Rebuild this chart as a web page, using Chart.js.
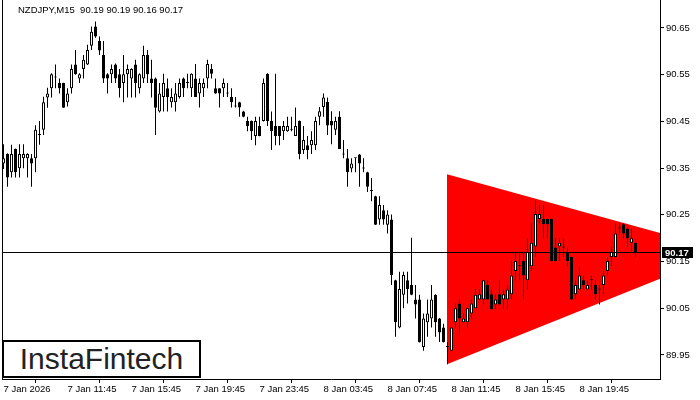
<!DOCTYPE html>
<html>
<head>
  <title>NZDJPY M15</title>
  <script src="https://cdn.jsdelivr.net/npm/chart.js"></script>
  <style>
    body { margin: 0; background: #fff; }
    #wrap { position: relative; width: 700px; height: 400px; }
    #title { position: absolute; left: 18px; top: 4px; font: 9.5px "Liberation Sans", Arial, sans-serif; color: #000; white-space: pre; }
    #logo { position: absolute; left: 2px; top: 340px; width: 195px; height: 34px; border: 2px solid #000; background: #fff;
            font: 30px "Liberation Sans", Arial, sans-serif; color: #222; text-align: center; line-height: 34px; }
  </style>
</head>
<body>
  <div id="wrap">
    <canvas id="chart" width="700" height="400"></canvas>
    <div id="title">NZDJPY,M15  90.19 90.19 90.16 90.17</div>
    <div id="logo">InstaFintech</div>
  </div>

  <script>
    // M15 bars, first bar = 7 Jan 2026 07:45
    const opens = [
      90.360, 90.380, 90.341, 90.391, 90.350, 90.371, 90.371, 90.371, 90.371, 90.421,
      90.432, 90.501, 90.521, 90.544, 90.532, 90.532, 90.491, 90.521, 90.572, 90.542,
      90.562, 90.572, 90.612, 90.653, 90.622, 90.592, 90.551, 90.551, 90.572, 90.551,
      90.532, 90.551, 90.542, 90.572, 90.521, 90.542, 90.592, 90.542, 90.542, 90.471,
      90.502, 90.521, 90.491, 90.491, 90.502, 90.542, 90.532, 90.521, 90.542, 90.510,
      90.521, 90.542, 90.562, 90.521, 90.521, 90.521, 90.510, 90.502, 90.482, 90.491,
      90.471, 90.451, 90.451, 90.419, 90.440, 90.451, 90.552, 90.451, 90.440, 90.440,
      90.429, 90.429, 90.432, 90.419, 90.451, 90.389, 90.399, 90.399, 90.399, 90.460,
      90.481, 90.492, 90.451, 90.432, 90.460, 90.379, 90.371, 90.349, 90.371, 90.379,
      90.349, 90.341, 90.301, 90.290, 90.240, 90.260, 90.229, 90.240, 90.110, 90.009,
      90.079, 90.110, 90.100, 90.069, 90.069, 89.967, 90.020, 90.028, 90.079, 90.028,
      90.009, 89.967, 89.959, 90.020, 90.060, 90.020, 90.020, 90.039, 90.050, 90.069,
      90.069, 90.100, 90.080, 90.058, 90.080, 90.069, 90.069, 90.080, 90.130, 90.140,
      90.151, 90.110, 90.140, 90.182, 90.241, 90.241, 90.241, 90.241, 90.180, 90.182,
      90.180, 90.171, 90.160, 90.080, 90.090, 90.110, 90.090, 90.110, 90.100, 90.090,
      90.100, 90.130, 90.160, 90.160, 90.221, 90.230, 90.221, 90.190, 90.190
    ];
    const highs = [
      90.401, 90.382, 90.400, 90.392, 90.401, 90.401, 90.382, 90.380, 90.442, 90.451,
      90.503, 90.522, 90.553, 90.572, 90.542, 90.533, 90.521, 90.572, 90.603, 90.553,
      90.592, 90.614, 90.653, 90.664, 90.632, 90.622, 90.553, 90.572, 90.574, 90.562,
      90.592, 90.572, 90.564, 90.582, 90.553, 90.612, 90.603, 90.582, 90.544, 90.532,
      90.552, 90.542, 90.521, 90.532, 90.542, 90.544, 90.552, 90.553, 90.573, 90.542,
      90.542, 90.582, 90.573, 90.542, 90.521, 90.542, 90.532, 90.521, 90.502, 90.492,
      90.473, 90.460, 90.452, 90.460, 90.460, 90.542, 90.553, 90.471, 90.552, 90.440,
      90.451, 90.460, 90.460, 90.480, 90.452, 90.440, 90.419, 90.429, 90.460, 90.481,
      90.510, 90.501, 90.472, 90.460, 90.472, 90.410, 90.391, 90.371, 90.372, 90.380,
      90.371, 90.342, 90.329, 90.291, 90.290, 90.271, 90.260, 90.251, 90.111, 90.128,
      90.128, 90.128, 90.201, 90.100, 90.079, 90.039, 90.069, 90.100, 90.080, 90.029,
      90.017, 89.978, 90.010, 90.060, 90.069, 90.039, 90.051, 90.069, 90.091, 90.090,
      90.111, 90.110, 90.090, 90.080, 90.110, 90.090, 90.100, 90.151, 90.171, 90.171,
      90.171, 90.200, 90.232, 90.282, 90.271, 90.271, 90.242, 90.242, 90.200, 90.200,
      90.200, 90.180, 90.161, 90.110, 90.140, 90.120, 90.110, 90.120, 90.110, 90.100,
      90.130, 90.160, 90.182, 90.232, 90.232, 90.232, 90.222, 90.221, 90.190
    ];
    const lows = [
      90.348, 90.310, 90.330, 90.330, 90.330, 90.350, 90.330, 90.310, 90.341, 90.400,
      90.421, 90.479, 90.501, 90.521, 90.510, 90.479, 90.482, 90.510, 90.550, 90.532,
      90.542, 90.571, 90.603, 90.629, 90.592, 90.532, 90.510, 90.532, 90.532, 90.501,
      90.491, 90.501, 90.501, 90.501, 90.510, 90.532, 90.532, 90.501, 90.421, 90.469,
      90.471, 90.471, 90.480, 90.471, 90.499, 90.502, 90.521, 90.502, 90.502, 90.480,
      90.502, 90.521, 90.542, 90.509, 90.480, 90.502, 90.502, 90.480, 90.480, 90.460,
      90.459, 90.429, 90.410, 90.399, 90.418, 90.450, 90.440, 90.389, 90.399, 90.399,
      90.410, 90.428, 90.429, 90.419, 90.369, 90.380, 90.369, 90.380, 90.389, 90.442,
      90.460, 90.421, 90.401, 90.421, 90.391, 90.371, 90.310, 90.341, 90.341, 90.310,
      90.341, 90.299, 90.279, 90.228, 90.229, 90.229, 90.210, 90.100, 89.989, 90.007,
      90.050, 90.060, 90.078, 90.028, 89.977, 89.959, 89.989, 90.009, 89.989, 89.978,
      89.977, 89.930, 89.958, 90.009, 89.998, 90.018, 90.009, 90.028, 90.050, 90.068,
      90.058, 90.068, 90.048, 90.048, 90.057, 90.048, 90.048, 90.069, 90.110, 90.110,
      90.069, 90.090, 90.130, 90.160, 90.232, 90.200, 90.200, 90.150, 90.150, 90.151,
      90.160, 90.140, 90.068, 90.069, 90.089, 90.090, 90.089, 90.090, 90.069, 90.058,
      90.080, 90.120, 90.140, 90.159, 90.210, 90.200, 90.182, 90.171, 90.160
    ];
    const closes = [
      90.371, 90.330, 90.380, 90.341, 90.380, 90.380, 90.380, 90.360, 90.432, 90.421,
      90.491, 90.510, 90.551, 90.544, 90.521, 90.479, 90.510, 90.562, 90.551, 90.551,
      90.582, 90.603, 90.642, 90.632, 90.602, 90.542, 90.542, 90.562, 90.542, 90.521,
      90.551, 90.562, 90.562, 90.532, 90.551, 90.592, 90.551, 90.532, 90.479, 90.510,
      90.532, 90.502, 90.502, 90.510, 90.532, 90.521, 90.532, 90.552, 90.502, 90.532,
      90.532, 90.573, 90.552, 90.510, 90.510, 90.532, 90.510, 90.491, 90.482, 90.480,
      90.460, 90.440, 90.429, 90.451, 90.419, 90.532, 90.451, 90.429, 90.419, 90.419,
      90.440, 90.440, 90.432, 90.440, 90.380, 90.410, 90.389, 90.410, 90.451, 90.472,
      90.501, 90.441, 90.441, 90.451, 90.391, 90.379, 90.341, 90.360, 90.371, 90.360,
      90.349, 90.310, 90.301, 90.229, 90.271, 90.240, 90.251, 90.121, 90.020, 90.091,
      90.121, 90.091, 90.079, 90.058, 89.978, 90.028, 90.039, 90.069, 90.020, 89.998,
      89.978, 89.967, 90.009, 90.050, 90.028, 90.028, 90.050, 90.060, 90.079, 90.080,
      90.110, 90.069, 90.048, 90.069, 90.058, 90.080, 90.090, 90.120, 90.151, 90.140,
      90.120, 90.171, 90.190, 90.252, 90.252, 90.230, 90.230, 90.151, 90.151, 90.190,
      90.180, 90.151, 90.069, 90.100, 90.120, 90.100, 90.100, 90.110, 90.080, 90.090,
      90.120, 90.151, 90.171, 90.210, 90.221, 90.210, 90.200, 90.200, 90.170
    ];

    // time axis: a label every 16 bars (4 hours)
    const xTickBars = [0, 16, 32, 48, 64, 80, 96, 112, 128, 144];
    const xTickLabels = ['7 Jan 2026', '7 Jan 11:45', '7 Jan 15:45', '7 Jan 19:45', '7 Jan 23:45',
                         '8 Jan 03:45', '8 Jan 07:45', '8 Jan 11:45', '8 Jan 15:45', '8 Jan 19:45'];
    const yTickValues = [89.95, 90.05, 90.15, 90.25, 90.35, 90.45, 90.55, 90.65];

    // symmetrical triangle (bar index, upper edge, lower edge)
    const triangleX = [110.875, 164.125];
    const triangleUpper = [90.337, 90.211];
    const triangleLower = [89.930, 90.113];

    const lastPrice = 90.17;
    const xMin = -0.375, xMax = 164.125;

    const bodies = opens.map((o, i) => ({ x: i, y: [o, closes[i]] }));
    const wicks = highs.map((h, i) => ({ x: i, y: [lows[i], h] }));
    const bodyColors = opens.map((o, i) => closes[i] >= o ? '#ffffff' : '#000000');

    const font = { family: '"Liberation Sans", Arial, sans-serif', size: 9.5 };

    // bid line across the plot + black price box on the axis
    const priceTag = {
      id: 'priceTag',
      afterDatasetsDraw(chart) {
        const { ctx, chartArea, scales: { y } } = chart;
        const py = Math.round(y.getPixelForValue(lastPrice));
        ctx.save();
        ctx.strokeStyle = '#000';
        ctx.lineWidth = 1;
        ctx.beginPath();
        ctx.moveTo(chartArea.left, py + 0.5);
        ctx.lineTo(chartArea.right, py + 0.5);
        ctx.stroke();
        ctx.restore();
      },
      afterDraw(chart) {
        const { ctx, scales: { y } } = chart;
        const py = Math.round(y.getPixelForValue(lastPrice));
        ctx.save();
        ctx.fillStyle = '#000';
        ctx.fillRect(662, py - 5, 31, 11);
        ctx.fillStyle = '#fff';
        ctx.font = 'bold 9.5px "Liberation Sans", Arial, sans-serif';
        ctx.textBaseline = 'middle';
        ctx.fillText(lastPrice.toFixed(2), 665, py + 1);
        ctx.restore();
      }
    };

    new Chart(document.getElementById('chart'), {
      type: 'bar',
      data: {
        datasets: [
          {
            type: 'line',
            data: triangleX.map((x, i) => ({ x: x, y: triangleUpper[i] })),
            borderWidth: 0,
            pointRadius: 0,
            backgroundColor: '#ff0000',
            fill: '+1',
            order: 4
          },
          {
            type: 'line',
            data: triangleX.map((x, i) => ({ x: x, y: triangleLower[i] })),
            borderWidth: 0,
            pointRadius: 0,
            fill: false,
            order: 4
          },
          {
            data: wicks,
            backgroundColor: '#000',
            grouped: false,
            barThickness: 1,
            maxBarThickness: 1,
            inflateAmount: 0,
            order: 2
          },
          {
            data: bodies,
            backgroundColor: bodyColors,
            borderColor: '#000',
            borderWidth: 1,
            borderSkipped: false,
            grouped: false,
            barThickness: 3,
            maxBarThickness: 3,
            minBarLength: 1,
            inflateAmount: 0,
            order: 1
          }
        ]
      },
      options: {
        responsive: false,
        animation: false,
        events: [],
        layout: { padding: 0 },
        plugins: { legend: { display: false }, tooltip: { enabled: false } },
        scales: {
          x: {
            type: 'linear',
            min: xMin,
            max: xMax,
            offset: false,
            grid: { drawOnChartArea: false, color: '#000', tickLength: 4 },
            border: { color: '#000' },
            ticks: {
              autoSkip: false,
              maxRotation: 0,
              align: 'start',
              padding: 1,
              color: '#000',
              font: font,
              callback: (v, i) => xTickLabels[i]
            },
            afterBuildTicks: s => { s.ticks = xTickBars.map(v => ({ value: v })); },
            afterFit: s => { s.height = 21; s.paddingLeft = 0; s.paddingRight = 0; }
          },
          y: {
            position: 'right',
            min: 89.8986,
            max: 90.7099,
            grid: { drawOnChartArea: false, color: '#000', tickLength: 4 },
            border: { color: '#000' },
            ticks: {
              padding: 2,
              color: '#000',
              font: font,
              callback: v => v.toFixed(2)
            },
            afterBuildTicks: s => { s.ticks = yTickValues.map(v => ({ value: v })); },
            afterFit: s => { s.width = 40; s.paddingTop = 0; s.paddingBottom = 0; }
          },
          yl: {
            position: 'left',
            ticks: { display: false },
            grid: { display: false },
            border: { color: '#000' },
            afterFit: s => { s.width = 2; s.paddingTop = 0; s.paddingBottom = 0; }
          }
        }
      },
      plugins: [priceTag]
    });
  </script>
</body>
</html>
